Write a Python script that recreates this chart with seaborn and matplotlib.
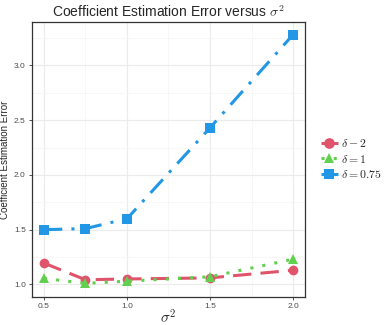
import numpy as np
import pandas as pd
import matplotlib
matplotlib.use("Agg")
import matplotlib.pyplot as plt
from matplotlib.ticker import MultipleLocator
import seaborn as sns

sns.set_theme(style="whitegrid")
plt.rcParams['font.family'] = ['Liberation Sans', 'DejaVu Sans']
plt.rcParams['mathtext.fontset'] = 'cm'

sigma2 = [0.5, 0.75, 1.0, 1.5, 2.0]
err_delta_m2 = [1.195, 1.043, 1.05, 1.06, 1.13]
err_delta_1 = [1.055, 1.01, 1.03, 1.07, 1.23]
err_delta_075 = [1.50, 1.51, 1.60, 2.43, 3.28]

labels = [r'$\delta - 2$', r'$\delta = 1$', r'$\delta = 0.75$']
colors = ["#DF536B", "#61D04F", "#2297E6"]
markers = ["o", "^", "s"]
styles = [(0, (6, 3)), (0, (1, 3)), (0, (6, 3, 1, 3))]

fig, ax = plt.subplots(figsize=(3.9, 3.25), dpi=100)

for vals, lab, c, m, ls in zip([err_delta_m2, err_delta_1, err_delta_075], labels, colors, markers, styles):
    df = pd.DataFrame({"sigma2": sigma2, "err": vals})
    sns.lineplot(data=df, x="sigma2", y="err", ax=ax, color=c, marker=m, markersize=7,
                 markeredgewidth=0, linewidth=2.2, linestyle=ls, label=lab)

ax.set_xlim(0.428, 2.072)
ax.set_ylim(0.885, 3.395)
ax.xaxis.set_major_locator(MultipleLocator(0.5))
ax.yaxis.set_major_locator(MultipleLocator(0.5))
ax.xaxis.set_minor_locator(MultipleLocator(0.25))
ax.yaxis.set_minor_locator(MultipleLocator(0.25))
ax.set_xticks([0.5, 1.0, 1.5, 2.0])
ax.set_xticklabels(["0.5", "1.0", "1.5", "2.0"])
ax.grid(which='major', color='#EBEBEB', linewidth=0.8)
ax.grid(which='minor', color='#F4F4F4', linewidth=0.5)
ax.tick_params(axis='both', which='major', labelsize=6, labelcolor='#4D4D4D',
               length=2.5, width=0.6, color='#333333', bottom=True, left=True, pad=2)
ax.tick_params(which='minor', length=0)
for s in ax.spines.values():
    s.set_color('#333333')
    s.set_linewidth(0.9)

ax.set_xlabel(r'$\sigma^2$', fontsize=11, labelpad=-1)
ax.set_ylabel('Coefficient Estimation Error', fontsize=7, labelpad=3)
ax.set_title(r'Coefficient Estimation Error versus $\sigma^2$', fontsize=10, pad=4)

leg = ax.legend(loc='center left', bbox_to_anchor=(1.02, 0.5), frameon=False,
                fontsize=8.5, handlelength=1.4, handletextpad=0.3, labelspacing=0.3,
                markerscale=1.1)

fig.subplots_adjust(left=0.082, right=0.782, top=0.932, bottom=0.086)
fig.savefig("out.png", dpi=100)
